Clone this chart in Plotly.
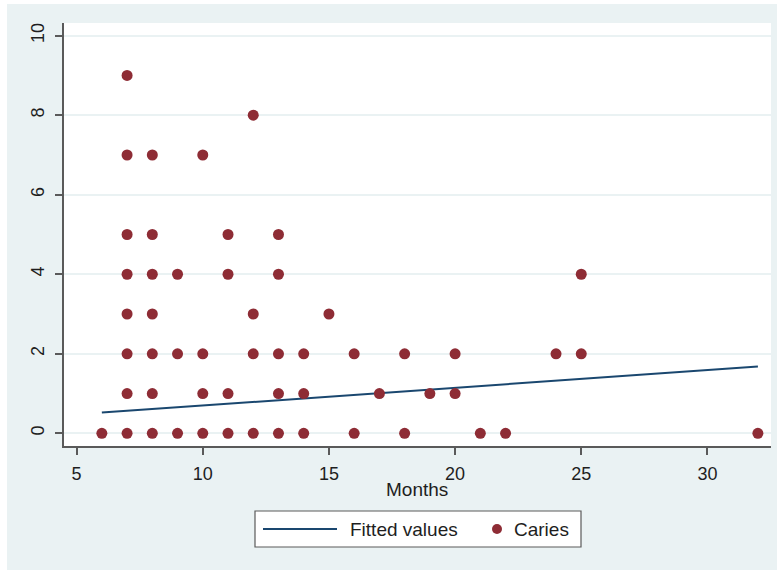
import plotly.graph_objects as go

# ---- data ----
caries_months = [6, 7, 8, 9, 10, 11, 12, 13, 14, 16, 18, 21, 22, 32,
                 7, 8, 10, 11, 13, 14, 17, 19, 20,
                 7, 8, 9, 10, 12, 13, 14, 16, 18, 20, 24, 25,
                 7, 8, 12, 15,
                 7, 8, 9, 11, 13, 25,
                 7, 8, 11, 13,
                 7, 8, 10,
                 12,
                 7]
caries_count = [0] * 14 + [1] * 9 + [2] * 12 + [3] * 4 + [4] * 6 + [5] * 4 + [7] * 3 + [8] + [9]

fit_months = [6, 32]
fit_values = [0.52, 1.68]

x_ticks = [5, 10, 15, 20, 25, 30]
y_ticks = [0, 2, 4, 6, 8, 10]

# ---- styling ----
W, H = 778, 571
L, R, T, B = 64, 7, 23, 125
PW, PH = W - L - R, H - T - B
PANEL = "#EAF2F3"
MAROON = "#8E2C35"
NAVY = "#1A476F"
AXIS = "#5a5a5a"
TXT = "#1e1e1e"
FONT = "Arial, Liberation Sans, Helvetica, sans-serif"


def px2x(px):
    return (px - L) / PW


def py2y(py):
    return (H - B - py) / PH


fig = go.Figure()
fig.add_trace(go.Scatter(x=fit_months, y=fit_values, mode="lines", name="Fitted values",
                         line=dict(color=NAVY, width=2), showlegend=False))
fig.add_trace(go.Scatter(x=caries_months, y=caries_count, mode="markers", name="Caries",
                         marker=dict(color=MAROON, size=11, line=dict(width=0)),
                         showlegend=False))

shapes = []
# white frame around the outer panel
for x0, y0, x1, y1 in [(0, 0, 7, H), (0, 0, W, 4), (777, 0, W, H), (0, 570, W, H)]:
    shapes.append(dict(type="rect", xref="paper", yref="paper", layer="below",
                       x0=px2x(x0), x1=px2x(x1), y0=py2y(y0), y1=py2y(y1),
                       fillcolor="white", line=dict(width=0)))
# legend box
shapes.append(dict(type="rect", xref="paper", yref="paper",
                   x0=px2x(255), x1=px2x(581), y0=py2y(511), y1=py2y(547),
                   fillcolor="white", line=dict(color=AXIS, width=1.2)))
shapes.append(dict(type="line", xref="paper", yref="paper",
                   x0=px2x(263), x1=px2x(337), y0=py2y(529), y1=py2y(529),
                   line=dict(color=NAVY, width=2)))
shapes.append(dict(type="circle", xref="paper", yref="paper",
                   x0=px2x(492), x1=px2x(502), y0=py2y(534), y1=py2y(524),
                   fillcolor=MAROON, line=dict(width=0)))

annotations = [
    dict(text="Months", xref="paper", yref="paper", x=px2x(417), y=py2y(489),
         xanchor="center", yanchor="middle", showarrow=False,
         font=dict(family=FONT, size=19, color=TXT)),
    dict(text="Fitted values", xref="paper", yref="paper", x=px2x(348), y=py2y(529),
         xanchor="left", yanchor="middle", showarrow=False,
         font=dict(family=FONT, size=19, color=TXT)),
    dict(text="Caries", xref="paper", yref="paper", x=px2x(512), y=py2y(529),
         xanchor="left", yanchor="middle", showarrow=False,
         font=dict(family=FONT, size=19, color=TXT)),
]

fig.update_layout(
    width=W, height=H,
    margin=dict(l=L, r=R, t=T, b=B, pad=0),
    paper_bgcolor=PANEL,
    plot_bgcolor="white",
    font=dict(family=FONT, color=TXT),
    shapes=shapes,
    annotations=annotations,
    showlegend=False,
    xaxis=dict(range=[4.5, 32.52], tickvals=x_ticks, ticktext=[str(v) for v in x_ticks],
               showgrid=False, zeroline=False, showline=True, linecolor=AXIS, linewidth=1.5,
               ticks="outside", ticklen=7, tickwidth=1.5, tickcolor=AXIS,
               tickfont=dict(size=18, color=TXT), ticklabelstandoff=4),
    yaxis=dict(range=[-0.32, 10.32], tickvals=y_ticks, ticktext=[str(v) for v in y_ticks],
               showgrid=True, gridcolor=PANEL, gridwidth=1.5, zeroline=False,
               showline=True, linecolor=AXIS, linewidth=1.5,
               ticks="outside", ticklen=7, tickwidth=1.5, tickcolor=AXIS,
               tickangle=-90, tickfont=dict(size=18, color=TXT), ticklabelstandoff=4),
)

fig.write_html("out.html", config={"displayModeBar": False},
               post_script="document.body.style.margin='0';document.body.style.padding='0';")
